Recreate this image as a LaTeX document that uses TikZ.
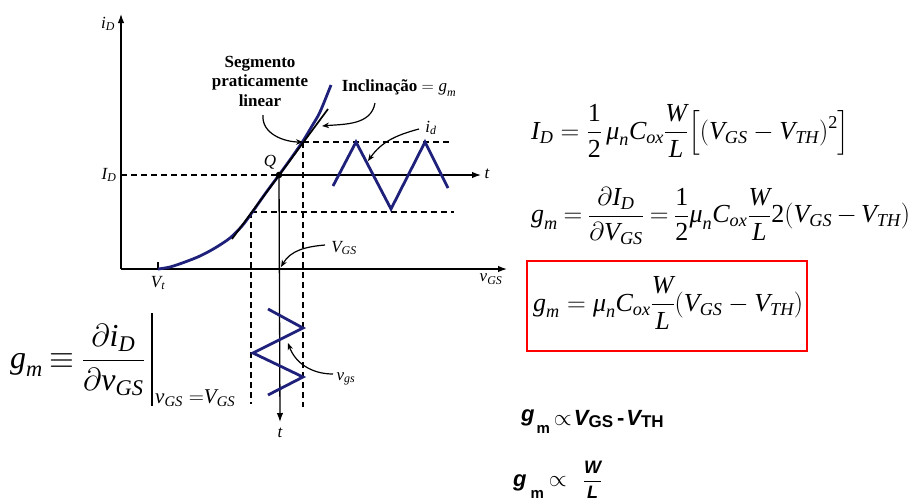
\RequirePackage{fix-cm}
\documentclass[tikz,border=0pt]{standalone}
\usepackage{amsmath}
\usepackage{fontspec}
\setmainfont{Liberation Serif}
\newfontfamily\arb{Liberation Sans}
\usetikzlibrary{arrows.meta}
\definecolor{navy}{RGB}{30,32,122}
\newcommand\itx[1]{\text{\itshape #1}}
\newcommand\upx[1]{\text{\upshape #1}}
\newcommand\sbb[2]{\itx{#1}_{\itx{#2}}}
\begin{document}
\begin{tikzpicture}[x=1pt,y=-1pt,
  ax/.style={line width=1.3pt},
  axarrow/.style={ax,-{Latex[length=9pt,width=6.5pt]}},
  dsh/.style={line width=1.2pt, dash pattern=on 6pt off 4pt},
  blu/.style={draw=navy, line width=2.8pt, line join=miter},
  lbl/.style={font=\fontsize{17}{20}\selectfont\itshape, inner sep=0pt},
  bld/.style={font=\fontsize{17}{19.5}\selectfont\bfseries, align=center, inner sep=0pt},
  carrow/.style={-{Stealth[length=7pt,width=5.5pt]}, line width=1.2pt},
  eq/.style={inner sep=0pt, anchor=west},
  eqR/.style={eq, font=\fontsize{26}{30}\selectfont},
  sans/.style={inner sep=0pt, anchor=base west, font=\arb\fontsize{22}{24}\selectfont\bfseries}
]
\useasboundingbox (0,0) rectangle (922,499);
\clip (0,0) rectangle (922,499);
% key points
\coordinate (O) at (121,269);
\coordinate (ytop) at (121,14);
\coordinate (xend) at (507,269);
\coordinate (Vt) at (158,269);
\coordinate (Vttop) at (158,262);
\coordinate (Q) at (279,175);
\coordinate (P1) at (303,142);
\coordinate (P2) at (251,212);
\coordinate (ID) at (121,175);
\coordinate (tend) at (481,175);
\coordinate (vend) at (280,422);
\coordinate (P1r) at (451,142);
\coordinate (P2r) at (454,212);
\coordinate (P1d) at (303,407);
\coordinate (P2d) at (251,404);
\coordinate (tanA) at (232,239);
\coordinate (tanB) at (328,109);
% axes
\draw[axarrow] (O) -- (ytop);
\draw[axarrow] (O) -- (xend);
\draw[ax] (Vt) -- (Vttop);
\draw[dsh] (ID) -- (Q);
\draw[axarrow] (Q) -- (tend);
\draw[axarrow] (Q) -- (vend);
\draw[dsh] (P1) -- (P1r);
\draw[dsh] (P2) -- (P2r);
\draw[dsh] (P1) -- (P1d);
\draw[dsh] (P2) -- (P2d);
% curve and tangent
\draw[blu] plot[smooth, tension=0.5] coordinates {(158,269) (170,267) (185,262) (200,256) (215,248) (230,238) (242,226) (251,214) (265,194) (279,175) (292,157) (303,141) (312,126) (320,112) (331,85)};
\draw[line width=1.7pt] (tanA) -- (tanB);
\fill (Q) circle (3.3pt);
% signals
\draw[blu] (333,186) -- (356,142) -- (391,209) -- (425,142) -- (448,188);
\draw[blu] (268,309) -- (303,328) -- (253,353) -- (303,377) -- (268,395);
% labels
\node[lbl] (liD) at (108,24) {$\sbb{i}{D}$};
\node[lbl] (lID) at (109,175) {$\sbb{I}{D}$};
\node[lbl] (lVt) at (158,283) {$\sbb{V}{t}$};
\node[lbl] (lvGS) at (491,279) {$\sbb{v}{GS}$};
\node[lbl] (lQ) at (270,162) {$\itx{Q}$};
\node[lbl] (lt1) at (487,174) {$\itx{t}$};
\node[lbl] (lt2) at (280,433) {$\itx{t}$};
\node[lbl] (lVGS) at (344,248) {$\sbb{V}{GS}$};
\node[lbl] (lvgs) at (346,379) {$\sbb{v}{gs}$};
\node[lbl] (lid) at (431,128) {$\sbb{i}{d}$};
\node[bld] (lseg) at (260,81) {Segmento\\praticamente\\linear};
\node[lbl, font=\fontsize{17}{20}\selectfont] (lincl) at (399,88) {\textbf{Inclinação} $= \sbb{g}{m}$};
% label arrows
\coordinate (segs) at (263,115);
\coordinate (incs) at (375,103);
\coordinate (inct) at (322,126);
\coordinate (ids) at (419,129);
\coordinate (idt) at (368,161);
\coordinate (vgss) at (325,245);
\coordinate (vgst) at (281,267);
\coordinate (vgsls) at (333,374);
\coordinate (vgslt) at (288,343);
\draw[carrow] (segs) to[out=-95,in=180] (P1);
\draw[carrow] (incs) to[out=-100,in=5] (inct);
\draw[carrow] (ids) to[out=195,in=55] (idt);
\draw[carrow] (vgss) to[out=185,in=60] (vgst);
\draw[carrow] (vgsls) to[out=180,in=-70] (vgslt);
% left formula
\node[eq] (gmdef) at (10,360) {\fontsize{32}{40}\selectfont \thickmuskip=4mu $\displaystyle \sbb{g}{m} \equiv \frac{\partial\sbb{i}{D}}{\partial\sbb{v}{GS}}$};
\coordinate (barT) at (152,313);
\coordinate (barB) at (152,406);
\draw[line width=1.2pt] (barT) -- (barB);
\node[eq, font=\fontsize{21}{24}\selectfont] (evalat) at (155,398) {$\sbb{v}{GS}\;{=}\sbb{V}{GS}$};
% right formulas
\node[eqR] (f1) at (531,131) {$\displaystyle \sbb{I}{D} = \frac{\upx{1}}{\upx{2}}\,\sbb{μ}{n}\sbb{C}{ox}\frac{\itx{W}}{\itx{L}}\Bigl[(\sbb{V}{GS} - \sbb{V}{TH})^{\upx{2}}\Bigr]$};
\node[eqR] (f2) at (531,216) {\thickmuskip=4mu \medmuskip=3mu $\displaystyle \sbb{g}{m} = \frac{\partial\sbb{I}{D}}{\partial\sbb{V}{GS}} = \frac{\upx{1}}{\upx{2}}\sbb{μ}{n}\sbb{C}{ox}\frac{\itx{W}}{\itx{L}}\upx{2}(\sbb{V}{GS} - \sbb{V}{TH})$};
\node[draw=red, line width=1.8pt, minimum width=280pt, minimum height=90pt, inner sep=0pt] (box) at (667,306) {};
\node[eqR] (f3) at (533,303) {$\displaystyle \sbb{g}{m} = \sbb{μ}{n}\sbb{C}{ox}\frac{\itx{W}}{\itx{L}}(\sbb{V}{GS} - \sbb{V}{TH})$};
% bottom proportionalities
\node[sans] (p1) at (521,425) {\raisebox{4pt}{\itshape g}\hspace{2pt}\raisebox{-8pt}{\fontsize{15}{15}\selectfont m}\hspace{4pt}{\fontsize{23}{24}\selectfont$\propto$}\hspace{2pt}{\itshape V}\raisebox{-2pt}{\fontsize{17}{17}\selectfont GS}\hspace{4pt}-\hspace{2pt}{\itshape V}\raisebox{-2pt}{\fontsize{17}{17}\selectfont TH}};
\node[sans] (p2) at (513,486) {{\itshape g}\hspace{4pt}\raisebox{-12pt}{\fontsize{15}{15}\selectfont m}\hspace{5pt}{\fontsize{23}{24}\selectfont$\propto$}\hspace{16pt}{\fontsize{18}{20}\selectfont$\displaystyle\frac{\itx{W}}{\itx{L}}$}};
\end{tikzpicture}
\end{document}
